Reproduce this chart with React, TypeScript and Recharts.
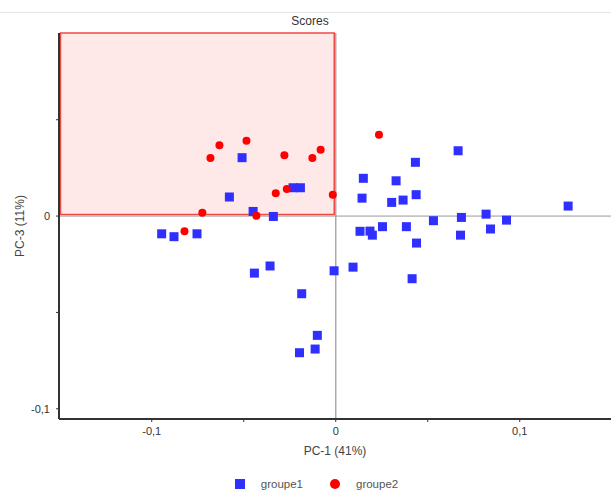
import React from "react";
import {
  ScatterChart,
  Scatter,
  XAxis,
  YAxis,
  ReferenceArea,
  ReferenceLine,
  Legend,
} from "recharts";

const BLUE = "#2f2fff";
const RED = "#ff0000";
const FONT = "'Liberation Sans', Arial, sans-serif";

const seriesNames = ["groupe1", "groupe2"];

// PC-1 / PC-3 scores
const groupe1X = [
  -0.0509, -0.0578, -0.0449, -0.0339, -0.0232, -0.0192, -0.0946, -0.0879, -0.0754,
  0.0665, 0.0433, 0.015, 0.0328, 0.0143, 0.0304, 0.0366, 0.0437, 0.1263, 0.0531,
  0.0683, 0.0817, 0.0928, 0.0132, 0.0186, 0.0199, 0.0254, 0.0384, 0.0439, 0.0678,
  0.0841, -0.0009, 0.0094, 0.0415, -0.0442, -0.0357, -0.0185, -0.01, -0.0112, -0.0197,
];
const groupe1Y = [
  0.0303, 0.0099, 0.0024, -0.0002, 0.0147, 0.0147, -0.0092, -0.0107, -0.0092,
  0.0339, 0.0279, 0.0196, 0.0183, 0.0093, 0.0071, 0.0083, 0.0111, 0.0052, -0.0024,
  -0.0007, 0.001, -0.0021, -0.0079, -0.0078, -0.0099, -0.0055, -0.0055, -0.014, -0.0099,
  -0.0067, -0.0284, -0.0265, -0.0325, -0.0296, -0.0259, -0.0403, -0.0619, -0.069, -0.0709,
];
const groupe2X = [
  -0.0681, -0.0632, -0.0485, -0.0279, -0.0127, -0.0082, -0.0326, -0.0266, -0.0016,
  -0.0725, -0.0431, -0.0822, 0.0235,
];
const groupe2Y = [
  0.0302, 0.0368, 0.0391, 0.0315, 0.0302, 0.0344, 0.0118, 0.014, 0.0111,
  0.0017, 0.0002, -0.0079, 0.0422,
];

const xTicks = [-0.1, -0.05, 0, 0.05, 0.1];
const yTicks = [-0.1, -0.05, 0, 0.05];
const xDomain = [-0.1504, 0.1496];
const yDomain = [-0.1053, 0.095];

const groupe1 = groupe1X.map((x, i) => ({ x, y: groupe1Y[i] }));
const groupe2 = groupe2X.map((x, i) => ({ x, y: groupe2Y[i] }));

// only the round tenths get a label, halves are bare ticks
const fmt = (v: number) => {
  if (Math.abs(v * 10 - Math.round(v * 10)) > 1e-6) return "";
  if (Math.abs(v) < 1e-9) return "0";
  return v.toFixed(1).replace(".", ",");
};

const Square = (props: any) => (
  <rect x={props.cx - 4.5} y={props.cy - 4.5} width={9} height={9} fill={BLUE} />
);
const Dot = (props: any) => <circle cx={props.cx} cy={props.cy} r={4} fill={RED} />;

function LegendBox() {
  return (
    <div
      style={{
        height: 20,
        display: "flex",
        justifyContent: "center",
        alignItems: "center",
        fontFamily: FONT,
        fontSize: 11.5,
        color: "#555",
        paddingLeft: 22,
      }}
    >
      <span style={{ width: 10, height: 10, background: BLUE, display: "inline-block" }} />
      <span style={{ marginLeft: 16, marginRight: 27 }}>{seriesNames[0]}</span>
      <span
        style={{ width: 10, height: 10, background: RED, borderRadius: 5, display: "inline-block" }}
      />
      <span style={{ marginLeft: 16 }}>{seriesNames[1]}</span>
    </div>
  );
}

export default function App() {
  const tickStyle = { fontSize: 11, fill: "#333", fontFamily: FONT };
  return (
    <div style={{ position: "absolute", left: 0, top: 0, width: 611, height: 494, background: "#fff" }}>
      <div style={{ position: "absolute", left: 0, top: 12, width: 611, height: 1, background: "#e6e6e6" }} />
      <div
        style={{
          position: "absolute",
          left: 0,
          width: 620,
          top: 14,
          textAlign: "center",
          fontFamily: FONT,
          fontSize: 12,
          color: "#333",
        }}
      >
        Scores
      </div>
      <ScatterChart width={611} height={494} margin={{ top: 33, right: 0, bottom: 0, left: 0 }}>
        <XAxis
          type="number"
          dataKey="x"
          domain={xDomain}
          ticks={xTicks}
          tickFormatter={fmt}
          allowDataOverflow
          height={55}
          tickSize={3}
          tickMargin={5}
          tick={tickStyle}
          axisLine={{ stroke: "#333", strokeWidth: 2 }}
          tickLine={{ stroke: "#333" }}
          label={{
            value: "PC-1 (41%)",
            position: "insideBottom",
            offset: 19,
            style: { fontSize: 12, fill: "#444", fontFamily: FONT },
          }}
        />
        <YAxis
          type="number"
          dataKey="y"
          domain={yDomain}
          ticks={yTicks}
          tickFormatter={fmt}
          allowDataOverflow
          width={59}
          tickSize={3}
          tickMargin={6}
          tick={tickStyle}
          axisLine={{ stroke: "#333", strokeWidth: 2 }}
          tickLine={{ stroke: "#333" }}
          label={{
            value: "PC-3 (11%)",
            angle: -90,
            position: "insideLeft",
            offset: 20,
            style: { fontSize: 12, fill: "#444", fontFamily: FONT, textAnchor: "middle" },
          }}
        />
        <ReferenceLine x={0} stroke="#aaa" strokeWidth={1.5} />
        <ReferenceLine y={0} stroke="#999" strokeWidth={1} />
        <ReferenceArea
          x1={xDomain[0] + 0.0008}
          x2={-0.0008}
          y1={0.0008}
          y2={yDomain[1]}
          fill={RED}
          fillOpacity={0.09}
          stroke="#ee4a44"
          strokeWidth={1.5}
          strokeOpacity={1}
        />
        <Legend verticalAlign="bottom" content={() => <LegendBox />} />
        <Scatter name={seriesNames[0]} data={groupe1} shape={Square} isAnimationActive={false} />
        <Scatter name={seriesNames[1]} data={groupe2} shape={Dot} isAnimationActive={false} />
      </ScatterChart>
    </div>
  );
}
